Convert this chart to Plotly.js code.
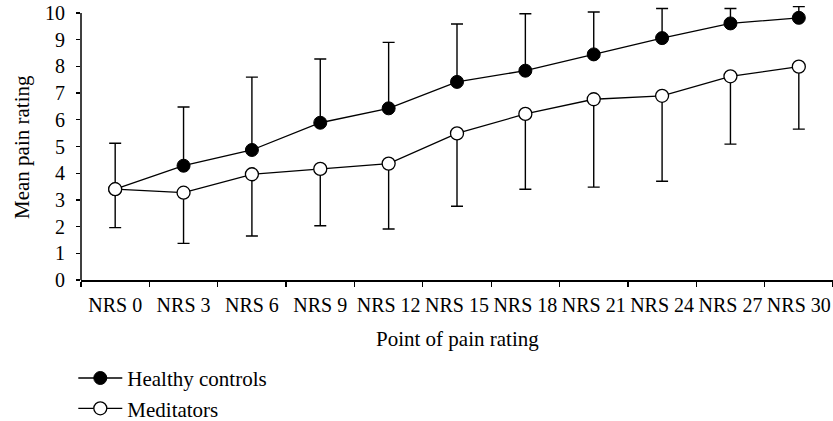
<!DOCTYPE html>
<html>
<head>
<meta charset="utf-8">
<script src="https://cdn.plot.ly/plotly-3.0.1.min.js"></script>
<style>html,body{margin:0;padding:0;background:#fff;}#chart{width:833px;height:421px;}</style>
</head>
<body>
<div id="chart"></div>
<script>
const categories = ["NRS 0","NRS 3","NRS 6","NRS 9","NRS 12","NRS 15","NRS 18","NRS 21","NRS 24","NRS 27","NRS 30"];
const controlsMean = [3.40, 4.28, 4.87, 5.89, 6.43, 7.42, 7.84, 8.45, 9.06, 9.61, 9.82];
const controlsSD   = [1.72, 2.20, 2.73, 2.39, 2.47, 2.17, 2.13, 1.59, 1.11, 0.56, 0.42];
const meditatorsMean = [3.40, 3.27, 3.96, 4.16, 4.36, 5.49, 6.22, 6.77, 6.90, 7.63, 7.99];
const meditatorsSD   = [1.44, 1.90, 2.31, 2.13, 2.45, 2.73, 2.82, 3.29, 3.20, 2.54, 2.34];
const yTicks = [0,1,2,3,4,5,6,7,8,9,10];
const xTitle = "Point of pain rating";
const yTitle = "Mean pain rating";
const zeros = categories.map(() => 0);

const font = "Liberation Serif, Times New Roman, serif";

const traces = [
  {
    name: "Healthy controls", x: categories, y: controlsMean, type: "scatter", mode: "lines+markers",
    line: {color: "#000", width: 1.3},
    marker: {symbol: "circle", size: 13, color: "#000", line: {color: "#000", width: 1}},
    error_y: {type: "data", symmetric: false, array: controlsSD, arrayminus: zeros, color: "#000", thickness: 1.4, width: 6},
    cliponaxis: false
  },
  {
    name: "Meditators", x: categories, y: meditatorsMean, type: "scatter", mode: "lines+markers",
    line: {color: "#000", width: 1.3},
    marker: {symbol: "circle", size: 13, color: "#fff", line: {color: "#000", width: 1.3}},
    error_y: {type: "data", symmetric: false, array: zeros, arrayminus: meditatorsSD, color: "#000", thickness: 1.4, width: 6},
    cliponaxis: false
  }
];

const layout = {
  width: 833, height: 421,
  margin: {l: 81, r: 0, t: 5, b: 141, autoexpand: false},
  paper_bgcolor: "#fff", plot_bgcolor: "#fff",
  font: {family: font, size: 20, color: "#000"},
  showlegend: true,
  legend: {xref: "container", yref: "container", x: 0.088, xanchor: "left", y: 0.15, yanchor: "top",
           itemwidth: 44,
           bgcolor: "rgba(0,0,0,0)", font: {family: font, size: 21}, tracegroupgap: 0},
  xaxis: {
    type: "category", range: [-0.5, 10.5], tickson: "boundaries",
    showline: true, linecolor: "#000", linewidth: 1.5, showgrid: false, zeroline: false,
    ticks: "outside", ticklen: 5, tickwidth: 1.3, tickcolor: "#000",
    tickangle: 0,
    tickfont: {family: font, size: 20},
    ticklabelstandoff: 6,
    automargin: false, fixedrange: true
  },
  yaxis: {
    range: [0, 10.3], tickvals: yTicks, ticktext: yTicks.map(String),
    showline: false, showgrid: false, zeroline: false,
    ticks: "outside", ticklen: 4, tickwidth: 1.3, tickcolor: "#000",
    tickfont: {family: font, size: 20},
    ticklabelstandoff: 7,
    automargin: false, fixedrange: true
  },
  shapes: [
    {type: "line", xref: "paper", yref: "y", x0: 0, x1: 0, y0: 0, y1: yTicks[yTicks.length - 1],
     line: {color: "#000", width: 1.5}}
  ],
  annotations: [
    {text: xTitle, xref: "paper", yref: "paper", x: 0.5, y: -0.2145, xanchor: "center", yanchor: "middle",
     showarrow: false, font: {family: font, size: 21, color: "#000"}},
    {text: yTitle, xref: "paper", yref: "paper", x: -0.0785, y: 0.4836, xanchor: "center", yanchor: "middle",
     textangle: -90, showarrow: false, font: {family: font, size: 21, color: "#000"}}
  ]
};

Plotly.newPlot("chart", traces, layout, {staticPlot: true, displayModeBar: false});
</script>
</body>
</html>
